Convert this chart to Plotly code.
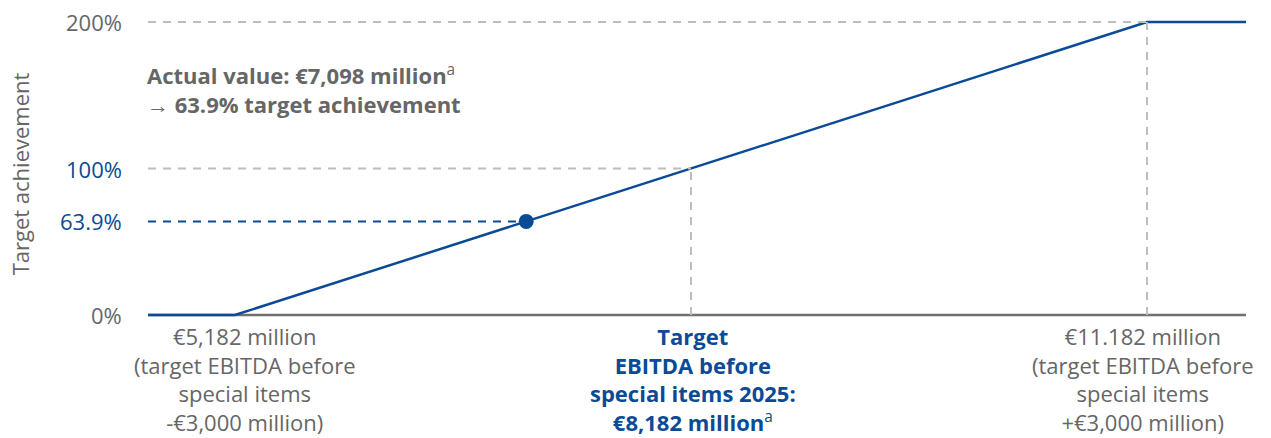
import plotly.graph_objects as go

# ---- data ----
curve_x = [4610, 5182, 11182, 11833]      # EBITDA before special items (€ million)
curve_y = [0, 0, 200, 200]                 # target achievement (%)
actual_x = 7098
actual_y = 63.9
target_x = 8182
upper_x = 11182
lower_x = 5182
ytick_vals = [0, 63.9, 100, 200]
ytick_text = ["0%", "63.9%", "100%", "200%"]

BLUE = "#0b4a96"
GRAY = "#666666"
LGRAY = "#bdbdbd"
FONT = "Open Sans, Liberation Sans, Arial, sans-serif"
FS = 22

xmin, xmax = curve_x[0], curve_x[-1]

fig = go.Figure()

dash = "8px,7px"
shapes = [
    dict(type="line", x0=xmin, x1=upper_x, y0=200, y1=200, line=dict(color=LGRAY, width=2, dash=dash)),
    dict(type="line", x0=xmin, x1=target_x, y0=100, y1=100, line=dict(color=LGRAY, width=2, dash=dash)),
    dict(type="line", x0=target_x, x1=target_x, y0=0, y1=100, line=dict(color=LGRAY, width=2, dash=dash)),
    dict(type="line", x0=upper_x, x1=upper_x, y0=0, y1=200, line=dict(color=LGRAY, width=2, dash=dash)),
    dict(type="line", x0=xmin, x1=actual_x, y0=actual_y, y1=actual_y, line=dict(color=BLUE, width=2, dash=dash)),
    dict(type="line", x0=xmin, x1=xmax, y0=0, y1=0, line=dict(color="#707070", width=2.5), layer="below"),
]

fig.add_trace(go.Scatter(x=curve_x, y=curve_y, mode="lines",
                         line=dict(color=BLUE, width=2.5), cliponaxis=False,
                         hoverinfo="skip", showlegend=False))
fig.add_trace(go.Scatter(x=[actual_x], y=[actual_y], mode="markers",
                         marker=dict(color=BLUE, size=15), cliponaxis=False,
                         hoverinfo="skip", showlegend=False))

ann = []
for v, t in zip(ytick_vals, ytick_text):
    col = BLUE if v in (63.9, 100) else GRAY
    ann.append(dict(x=0, xref="paper", y=v, yref="y", text=t, showarrow=False,
                    xanchor="right", yanchor="middle", xshift=-24,
                    font=dict(family=FONT, size=FS, color=col)))

ann.append(dict(x=0, xref="paper", y=96, yref="y", text="Target achievement",
                textangle=-90, showarrow=False, xanchor="center", yanchor="middle",
                xshift=-128, font=dict(family=FONT, size=FS, color=GRAY)))

ann.append(dict(x=0, xref="paper", y=176, yref="y",
                text="<b>Actual value: €7,098 million</b><sup>a</sup><br><b>→ 63.9% target achievement</b>",
                showarrow=False, xanchor="left", yanchor="top", align="left",
                xshift=-3,
                font=dict(family=FONT, size=FS, color=GRAY)))

ann.append(dict(x=lower_x, y=0, text="€5,182 million<br>(target EBITDA before<br>special items<br>-€3,000 million)",
                showarrow=False, xanchor="center", yanchor="top", yshift=-4, align="center",
                xshift=10, font=dict(family=FONT, size=FS, color=GRAY)))
ann.append(dict(x=target_x, y=0, text="<b>Target<br>EBITDA before<br>special items 2025:<br>€8,182 million</b><sup>a</sup>",
                showarrow=False, xanchor="center", yanchor="top", yshift=-4, align="center",
                xshift=2, font=dict(family=FONT, size=FS, color=BLUE)))
ann.append(dict(x=upper_x, y=0, text="€11.182 million<br>(target EBITDA before<br>special items<br>+€3,000 million)",
                showarrow=False, xanchor="center", yanchor="top", yshift=-4, align="center",
                xshift=-5, font=dict(family=FONT, size=FS, color=GRAY)))

fig.update_layout(
    width=1271, height=438,
    margin=dict(l=140, r=33, t=7, b=128),
    paper_bgcolor="white", plot_bgcolor="white",
    shapes=shapes, annotations=ann,
    xaxis=dict(range=[xmin, xmax], visible=False, fixedrange=True),
    yaxis=dict(range=[-2.05, 204.78], visible=False, fixedrange=True),
    showlegend=False,
)

fig.write_html("out.html")
